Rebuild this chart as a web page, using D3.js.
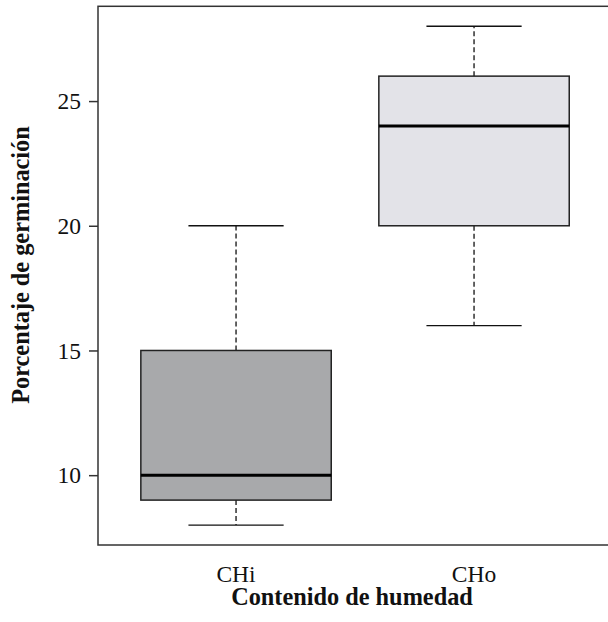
<!DOCTYPE html>
<html>
<head>
<meta charset="utf-8">
<script src="https://cdn.jsdelivr.net/npm/d3@7"></script>
<style>
  body { margin: 0; background: #fff; }
  svg { display: block; font-family: "Liberation Serif", "Times New Roman", serif; }
</style>
</head>
<body>
<svg id="chart" width="608" height="622"></svg>
<script>
// box statistics
const groups = ["CHi", "CHo"]
const whisker_low = [8, 16]
const q1 = [9, 20]
const medians = [10, 24]
const q3 = [15, 26]
const whisker_high = [20, 28]
const fills = ["#a8a9ab", "#e3e3e8"]
const y_ticks = [10, 15, 20, 25]

const svg = d3.select("#chart")
const plot_left = 98, plot_top = 6.3, plot_bottom = 545

// R style: range padded by 4%
const x = d3.scaleLinear().domain([0.42, 2.58]).range([plot_left, plot_left + 2.16 * 238])
const y = d3.scaleLinear().domain([7.2, 28.8]).range([plot_bottom, plot_top])

const box_half = 0.4, cap_half = 0.2

const data = groups.map((g, i) => ({
    name: g, pos: i + 1, lo: whisker_low[i], q1: q1[i], med: medians[i], q3: q3[i], hi: whisker_high[i], fill: fills[i]
}))

const box = svg.selectAll(".box").data(data).enter().append("g").attr("class", "box")

// whiskers (dashed)
box.append("line")
    .attr("x1", d => x(d.pos)).attr("x2", d => x(d.pos))
    .attr("y1", d => y(d.q3)).attr("y2", d => y(d.hi))
    .attr("stroke", "#111").attr("stroke-width", 1.3).attr("stroke-dasharray", "5,3")
box.append("line")
    .attr("x1", d => x(d.pos)).attr("x2", d => x(d.pos))
    .attr("y1", d => y(d.q1)).attr("y2", d => y(d.lo))
    .attr("stroke", "#111").attr("stroke-width", 1.3).attr("stroke-dasharray", "5,3")
// staples
box.selectAll(".cap").data(d => [d.lo, d.hi].map(v => ({pos: d.pos, v: v}))).enter().append("line")
    .attr("class", "cap")
    .attr("x1", d => x(d.pos - cap_half)).attr("x2", d => x(d.pos + cap_half))
    .attr("y1", d => y(d.v)).attr("y2", d => y(d.v))
    .attr("stroke", "#111").attr("stroke-width", 1.3)
// box
box.append("rect")
    .attr("x", d => x(d.pos - box_half))
    .attr("y", d => y(d.q3))
    .attr("width", d => x(d.pos + box_half) - x(d.pos - box_half))
    .attr("height", d => y(d.q1) - y(d.q3))
    .attr("fill", d => d.fill)
    .attr("stroke", "#222").attr("stroke-width", 1.5)
// median
box.append("line")
    .attr("x1", d => x(d.pos - box_half)).attr("x2", d => x(d.pos + box_half))
    .attr("y1", d => y(d.med)).attr("y2", d => y(d.med))
    .attr("stroke", "#000").attr("stroke-width", 3)

// frame (right side falls outside the window)
svg.append("rect")
    .attr("x", plot_left).attr("y", plot_top)
    .attr("width", x(2.58) - plot_left).attr("height", plot_bottom - plot_top)
    .attr("fill", "none").attr("stroke", "#333").attr("stroke-width", 1.5)

// y axis
const y_axis = svg.append("g")
    .attr("transform", `translate(${plot_left},0)`)
    .call(d3.axisLeft(y).tickValues(y_ticks).tickSize(9).tickPadding(8))
y_axis.select(".domain").remove()
y_axis.selectAll("line").attr("stroke", "#333").attr("stroke-width", 1.5)
y_axis.selectAll("text").attr("font-size", 23.5).attr("fill", "#111")
    .attr("font-family", "Liberation Serif")

// x category labels
svg.selectAll(".x-label").data(data).enter().append("text")
    .attr("class", "x-label")
    .attr("x", d => x(d.pos)).attr("y", 582)
    .attr("text-anchor", "middle")
    .attr("font-size", 23.5).attr("fill", "#111")
    .text(d => d.name)

// axis titles
svg.append("text")
    .attr("x", 352).attr("y", 605)
    .attr("text-anchor", "middle")
    .attr("font-size", 24.3).attr("font-weight", "bold").attr("fill", "#111")
    .text("Contenido de humedad")
svg.append("text")
    .attr("transform", "translate(29,265) rotate(-90)")
    .attr("text-anchor", "middle")
    .attr("font-size", 24.3).attr("font-weight", "bold").attr("fill", "#111")
    .text("Porcentaje de germinación")
</script>
</body>
</html>
